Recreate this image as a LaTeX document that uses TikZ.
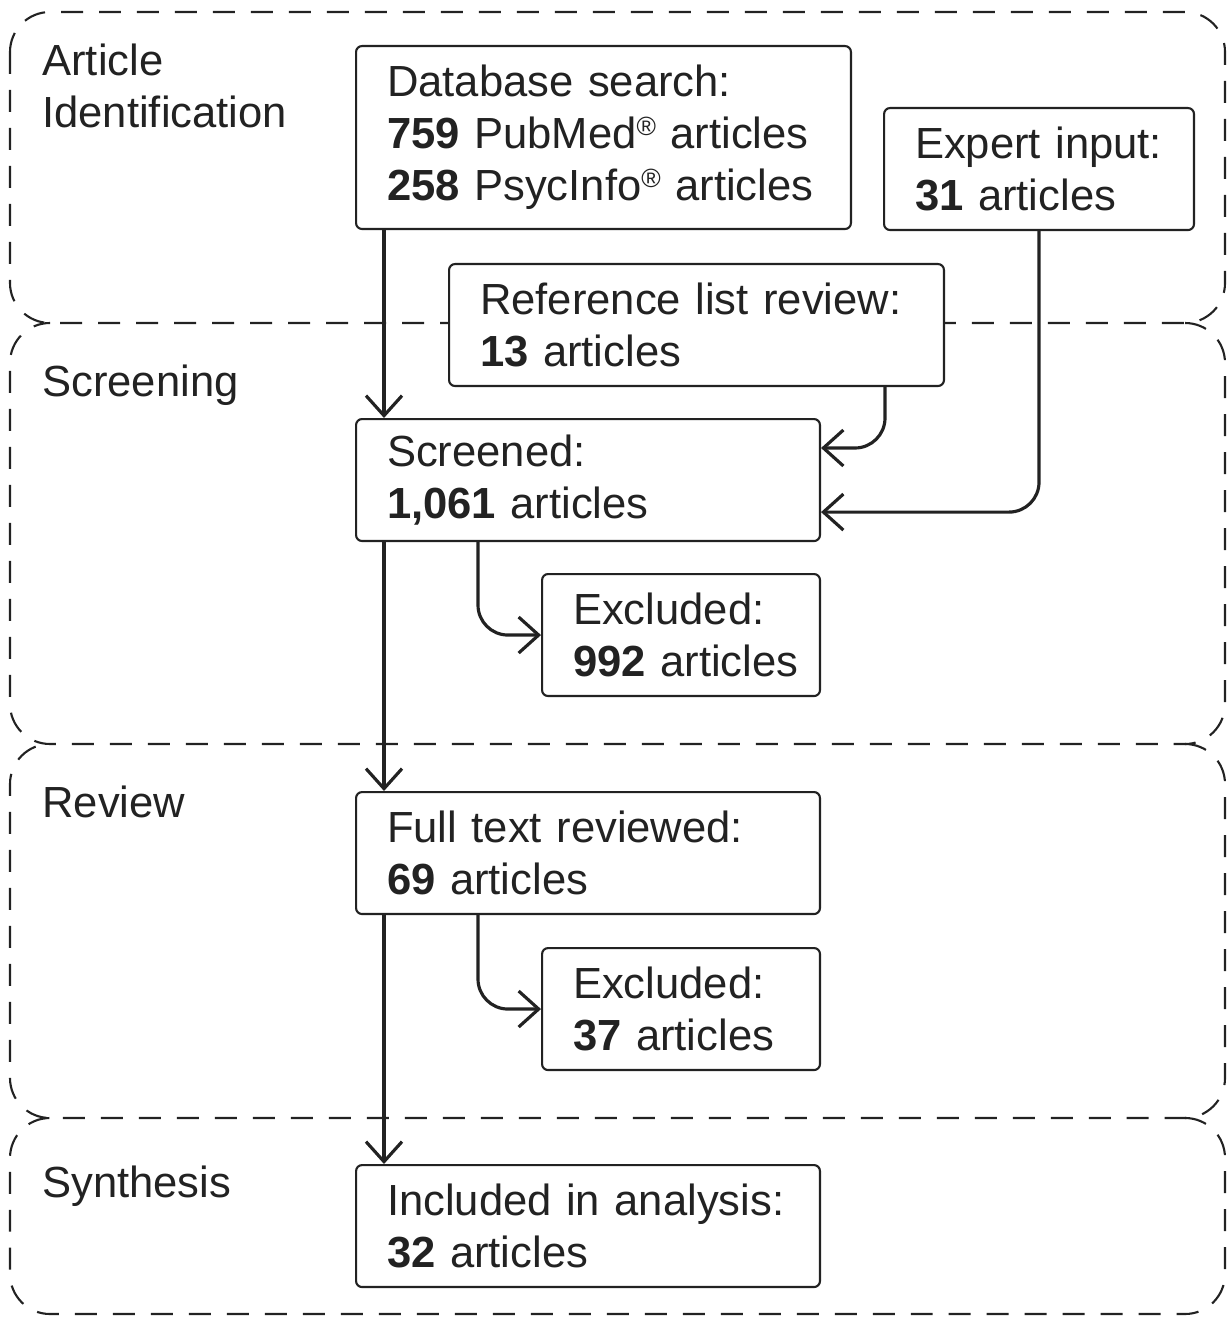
\documentclass[tikz,border=0pt]{standalone}
\usepackage{fontspec}
\setmainfont{Liberation Sans}
\usetikzlibrary{arrows.meta}
\usetikzlibrary{calc}
\definecolor{ink}{HTML}{222222}
\newcommand{\arts}[1]{\mbox{\textbf{#1} articles}}
\newcommand{\regmark}{\raisebox{0.3em}{\fontsize{15}{15}\selectfont ®}}

\tikzset{
  stage/.style={draw=ink, line width=1.2pt, dash pattern=on 0.44cm off 0.32cm, rounded corners=0.8cm},
  stagename/.style={anchor=north west, align=left, inner sep=0pt, text=ink, font=\fontsize{24.8}{29.6}\selectfont},
  box/.style={draw=ink, line width=1.2pt, rounded corners=0.12cm, fill=white, anchor=north west,
    align=left, inner xsep=0.62cm, inner ysep=0pt, minimum height=2.44cm, text=ink,
    font=\fontsize{24.8}{29.6}\selectfont},
  flow/.style={draw=ink, line width=1.8pt, rounded corners=0.6cm,
    -{Straight Barb[length=0.4cm,width=0.72cm,line width=1.8pt]}}
}

\begin{document}
\begin{tikzpicture}[x=0.02cm,y=-0.02cm]
\useasboundingbox (0,0) rectangle (1228,1317);
% stages
\draw[stage] (10,12) rectangle (1225,323);
\draw[stage] (1185,323) -- (1225,323) -- (1225,744) -- (10,744) -- (10,323) -- (50,323);
\draw[stage] (1185,744) -- (1225,744) -- (1225,1118) -- (10,1118) -- (10,744) -- (50,744);
\draw[stage] (1185,1118) -- (1225,1118) -- (1225,1314) -- (10,1314) -- (10,1118) -- (50,1118);
\node[stagename] (identname) at (42,44) {Article\\Identification};
\node[stagename] (screenname) at (42,365) {Screening};
\node[stagename] (reviewname) at (42,786) {Review};
\node[stagename] (synthname) at (42,1166) {Synthesis};
% boxes
\node[box, text width=8.66cm, minimum height=3.66cm] (db) at (355,45)
  {Database search:\\\mbox{\textbf{759} PubMed\regmark{} articles}\\\mbox{\textbf{258} PsycInfo\regmark{} articles}};
\node[box, text width=4.96cm] (expert) at (883,107) {Expert input:\\\arts{31}};
\node[box, text width=8.66cm] (reflist) at (448,263) {Reference list review:\\\arts{13}};
\node[box, text width=8.04cm] (screened) at (355,418) {Screened:\\\arts{1,061}};
\node[box, text width=4.32cm] (excl1) at (541,573) {Excluded:\\\arts{992}};
\node[box, text width=8.04cm] (fulltext) at (355,791) {Full text reviewed:\\\arts{69}};
\node[box, text width=4.32cm] (excl2) at (541,947) {Excluded:\\\arts{37}};
\node[box, text width=8.04cm] (included) at (355,1164) {Included in analysis:\\\arts{32}};
% arrows
\draw[flow] ($(db.south west)+(29,0)$) -- ($(screened.north west)+(29,0)$);
\draw[flow] ($(reflist.south east)+(-60,0)$) |- ($(screened.north east)+(0,30)$);
\draw[flow] (expert.south) |- ($(screened.south east)+(0,-30)$);
\draw[flow] ($(screened.south west)+(123,0)$) |- (excl1.west);
\draw[flow] ($(screened.south west)+(29,0)$) -- ($(fulltext.north west)+(29,0)$);
\draw[flow] ($(fulltext.south west)+(123,0)$) |- (excl2.west);
\draw[flow] ($(fulltext.south west)+(29,0)$) -- ($(included.north west)+(29,0)$);
\end{tikzpicture}
\end{document}
